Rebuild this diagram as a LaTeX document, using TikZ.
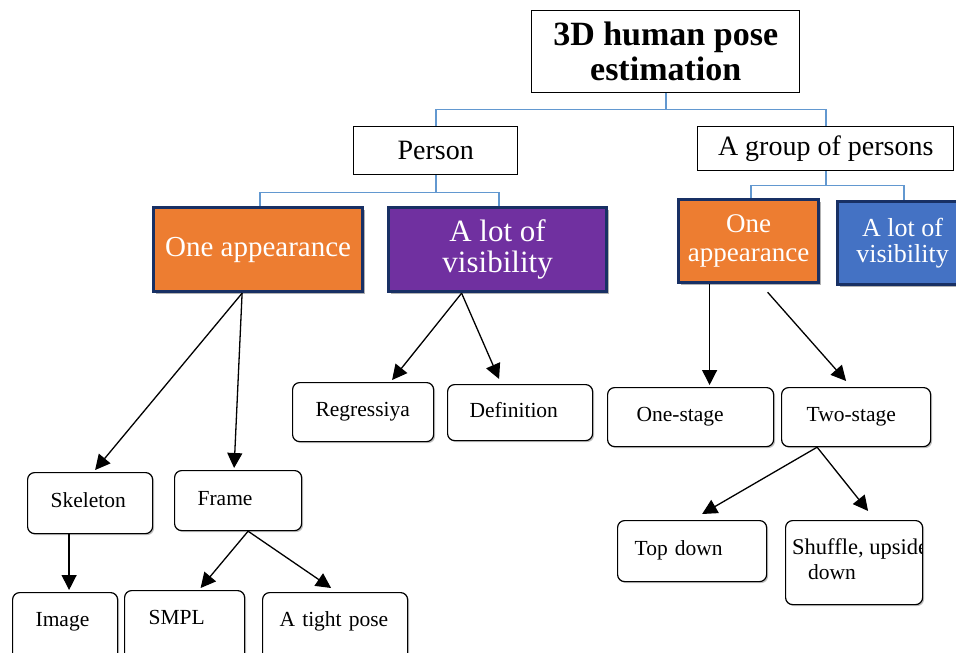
\documentclass[tikz,border=0pt]{standalone}
\usepackage{fontspec}
\setmainfont{Liberation Serif}
\usetikzlibrary{arrows.meta, shadows}
\definecolor{navy}{RGB}{24,48,100}
\definecolor{orng}{RGB}{237,125,49}
\definecolor{purp}{RGB}{112,48,160}
\definecolor{blu}{RGB}{68,114,196}
\definecolor{tieblue}{RGB}{98,152,208}
\tikzset{
	head/.style={rectangle, draw, line width=1.4pt, align=center, anchor=north west, font=\bfseries\fontsize{34}{35}\selectfont},
	cat/.style={rectangle, draw, line width=1.4pt, align=center, anchor=north west, font=\fontsize{28}{30}\selectfont},
	colbox/.style={rectangle, draw=navy, line width=3.2pt, text=white, align=center, anchor=north west, inner sep=2pt, drop shadow={shadow xshift=2.5pt, shadow yshift=-2.5pt, fill=black, opacity=0.3}},
	leaf/.style={rectangle, draw, rounded corners=7pt, line width=1.2pt, fill=white, align=left, anchor=north west, inner xsep=23pt, text height=15pt, text depth=6pt, font=\fontsize{21.5}{25}\selectfont, drop shadow={shadow xshift=1.5pt, shadow yshift=-1.5pt, fill=black, opacity=0.25}},
	low/.style={text depth=17pt},
	leaftext/.style={align=left, inner sep=0pt, anchor=north west, font=\fontsize{22.5}{25}\selectfont},
	tie/.style={draw=tieblue, line width=1.8pt},
	arr/.style={-{Triangle[length=15pt, width=15pt]}, line width=1.3pt}
}

\begin{document}
\begin{tikzpicture}[x=1pt, y=-1pt]
    \clip (0,0) rectangle (956,653);

    % upper levels
    \node[head, minimum width=268pt, minimum height=82pt] (root) at (531,10) {3D human pose\\estimation};
    \node[cat, minimum width=164pt, minimum height=48pt] (person) at (353,126) {Person};
    \node[cat, minimum width=256pt, minimum height=44pt] (group) at (697,126) {A group of persons};

    \node[colbox, fill=orng, minimum width=209pt, minimum height=84pt, font=\fontsize{29}{31}\selectfont] (app1) at (152,206) {One appearance};
    \node[colbox, fill=purp, minimum width=218pt, minimum height=84pt, font=\fontsize{31}{31}\selectfont] (vis1) at (387,206) {A lot of\\visibility};
    \node[colbox, fill=orng, minimum width=140pt, minimum height=83pt, font=\fontsize{27}{29}\selectfont] (app2) at (677,198) {One\\appearance};
    \node[colbox, fill=blu, minimum width=130pt, minimum height=83pt, font=\fontsize{26}{26}\selectfont] (vis2) at (836,200) {A lot of\\visibility};

    \draw[tie] (root.south) -- ++(0,16) -| (person.north);
    \draw[tie] (root.south) -- ++(0,16) -| (group.north);
    \draw[tie] (person.south) -- ++(0,17) -| ([xshift=1.5pt]app1.north);
    \draw[tie] (person.south) -- ++(0,17) -| ([xshift=1pt]vis1.north);
    \draw[tie] (group.south) -- ++(0,14) -| ([xshift=2pt]app2.north);
    \draw[tie] (group.south) -- ++(0,14) -| ([xshift=1pt]vis2.north);

    % leaves
    \node[leaf, text width=95pt, minimum height=59pt] (regr) at (292,382) {Regressiya};
    \node[leaf, inner xsep=22pt, text width=101pt, minimum height=56pt] (defn) at (447,384) {Definition};
    \node[leaf, inner xsep=29pt, text width=108pt, minimum height=59pt] (onest) at (607,387) {One-stage};
    \node[leaf, inner xsep=25pt, text width=99pt, minimum height=59pt] (twost) at (781,387) {Two-stage};
    \node[leaf, inner xsep=17pt, text width=115pt, minimum height=61pt] (topdown) at (617,520) {Top down};
    \node[leaf, minimum width=137pt, minimum height=84pt] (shuffle) at (785,520) {};
    \begin{scope}
        \clip ([xshift=-1pt]shuffle.north east) rectangle (shuffle.south west);
        \node[leaftext] (shuffletext) at ([shift={(7pt,-18pt)}]shuffle.north west) {Shuffle, upside\\\hspace*{16pt}\fontsize{21.5}{25}\selectfont down};
    \end{scope}
    \node[leaf, text width=79pt, minimum height=61pt] (skel) at (27,472) {Skeleton};
    \node[leaf, text width=81pt, minimum height=60pt] (frame) at (174,470) {Frame};
    \node[leaf, low, text width=59pt, minimum height=70pt] (image) at (12,592) {Image};
    \node[leaf, low, inner xsep=24pt, text width=72pt, minimum height=70pt] (smpl) at (124,590) {SMPL};
    \node[leaf, low, inner xsep=17pt, text width=111pt, minimum height=70pt] (tight) at (262,592) {A tight pose};

    \draw[arr] ([xshift=-16pt]app1.south) -- ([xshift=5pt,yshift=2pt]skel.north);
    \draw[arr] ([xshift=-16pt]app1.south) -- ([xshift=-4pt,yshift=2pt]frame.north);
    \draw[arr] ([xshift=-36pt]vis1.south) -- ([xshift=29pt,yshift=2pt]regr.north);
    \draw[arr] ([xshift=-36pt]vis1.south) -- ([xshift=-21pt,yshift=5pt]defn.north);
    \draw[arr] ([xshift=-39pt]app2.south) -- ([xshift=19pt,yshift=2pt]onest.north);
    \draw[arr] ([xshift=19pt,yshift=-8pt]app2.south) -- ([xshift=-10pt,yshift=6pt]twost.north);
    \draw[arr] ([xshift=-21pt]skel.south) -- ([xshift=4pt,yshift=2pt]image.north);
    \draw[arr] ([xshift=10pt]frame.south) -- ([xshift=16pt,yshift=2pt]smpl.north);
    \draw[arr] ([xshift=10pt]frame.south) -- ([xshift=-4pt,yshift=4pt]tight.north);
    \draw[arr] ([xshift=-39pt]twost.south) -- ([xshift=10pt,yshift=6pt]topdown.north);
    \draw[arr] ([xshift=-39pt]twost.south) -- ([xshift=14pt,yshift=9pt]shuffle.north);
\end{tikzpicture}
\end{document}
